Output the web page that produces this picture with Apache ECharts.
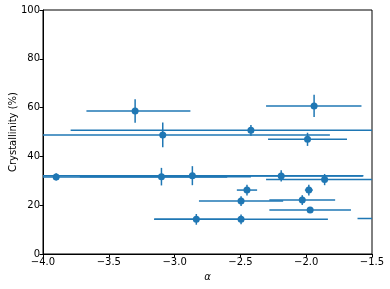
<!DOCTYPE html>
<html>
<head>
<meta charset="utf-8">
<script src="https://cdn.jsdelivr.net/npm/echarts@6/dist/echarts.min.js"></script>
<style>html,body{margin:0;padding:0;background:#fff}#c{width:390px;height:289px}</style>
</head>
<body>
<div id="c"></div>
<script>
// alpha values (x) and crystallinity (%) (y)
var alphaX = [-3.30, -1.94, -3.09, -2.42, -1.99, -3.90, -3.10, -2.865, -2.19, -1.86, -2.45, -1.98, -2.495, -2.03, -1.97, -2.835, -2.495, -1.30];
var crystY = [58.6, 60.7, 48.8, 50.7, 47.0, 31.6, 31.7, 32.1, 32.0, 30.5, 26.2, 26.2, 21.7, 22.1, 18.0, 14.2, 14.2, 14.6];
// x error (left / right) and y error
var xErrLo = [0.37, 0.365, 1.27, 1.37, 0.30, 1.30, 0.62, 1.30, 0.62, 0.445, 0.077, 0.03, 0.32, 0.25, 0.31, 0.32, 0.66, 0.31];
var xErrHi = [0.42, 0.36, 1.27, 1.37, 0.30, 1.30, 0.68, 1.30, 0.62, 0.445, 0.077, 0.03, 0.32, 0.25, 0.31, 0.32, 0.66, 0.31];
var yErr = [4.8, 4.6, 5.1, 2.2, 2.7, 1.5, 3.6, 3.9, 2.3, 2.3, 2.2, 2.2, 2.0, 2.0, 1.0, 2.2, 2.0, 0.5];
var xTicks = [-4.0, -3.5, -3.0, -2.5, -2.0, -1.5];
var yTicks = [0, 20, 40, 60, 80, 100];

var color = '#1f77b4';
var pts = alphaX.map(function (x, i) { return [x, crystY[i]]; });
var errData = alphaX.map(function (x, i) {
  return [x, crystY[i], x - xErrLo[i], x + xErrHi[i], crystY[i] - yErr[i], crystY[i] + yErr[i]];
});
function fmt(v) { return (v < 0 ? '\u2212' : '') + Math.abs(v).toFixed(1); }

var chart = echarts.init(document.getElementById('c'), null, {renderer: 'canvas'});
chart.setOption({
  animation: false,
  backgroundColor: '#fff',
  textStyle: {fontFamily: 'DejaVu Sans'},
  grid: {left: 43, right: 18, top: 10, bottom: 35, containLabel: false, outerBoundsMode: 'none',
         show: true, borderColor: '#000', borderWidth: 1, backgroundColor: 'transparent'},
  xAxis: {
    type: 'value', min: xTicks[0], max: xTicks[xTicks.length - 1], interval: 0.5,
    name: '\u03b1', nameLocation: 'middle', nameGap: 18, nameMoveOverlap: false,
    nameTextStyle: {fontFamily: 'DejaVu Sans', fontStyle: 'italic', fontSize: 10, color: '#000'},
    axisLine: {show: true, lineStyle: {color: '#000', width: 1}},
    axisTick: {show: true, inside: false, length: 3.5, lineStyle: {color: '#000', width: 1}},
    axisLabel: {formatter: fmt, fontSize: 10, color: '#000', margin: 3, fontFamily: 'DejaVu Sans'},
    splitLine: {show: false}
  },
  yAxis: {
    type: 'value', min: yTicks[0], max: yTicks[yTicks.length - 1], interval: 20,
    name: 'Crystallinity (%)', nameLocation: 'middle', nameGap: 25, nameMoveOverlap: false,
    nameTextStyle: {fontFamily: 'DejaVu Sans', fontSize: 10, color: '#000'},
    axisLine: {show: true, lineStyle: {color: '#000', width: 1}},
    axisTick: {show: true, inside: false, length: 3.5, lineStyle: {color: '#000', width: 1}},
    axisLabel: {fontSize: 10, color: '#000', margin: 3, fontFamily: 'DejaVu Sans'},
    splitLine: {show: false}
  },
  series: [
    {
      type: 'custom',
      clip: true,
      data: errData,
      encode: {x: [0, 2, 3], y: [1, 4, 5]},
      renderItem: function (params, api) {
        var l = api.coord([api.value(2), api.value(1)]);
        var r = api.coord([api.value(3), api.value(1)]);
        var b = api.coord([api.value(0), api.value(4)]);
        var t = api.coord([api.value(0), api.value(5)]);
        var st = {stroke: color, lineWidth: 1.5};
        return {
          type: 'group',
          children: [
            {type: 'line', shape: {x1: l[0], y1: l[1], x2: r[0], y2: r[1]}, style: st},
            {type: 'line', shape: {x1: b[0], y1: b[1], x2: t[0], y2: t[1]}, style: st}
          ]
        };
      },
      z: 2
    },
    {
      type: 'scatter',
      data: pts,
      symbol: 'circle',
      symbolSize: 7,
      clip: true,
      itemStyle: {color: color, opacity: 1},
      z: 3
    }
  ]
});
</script>
</body>
</html>
